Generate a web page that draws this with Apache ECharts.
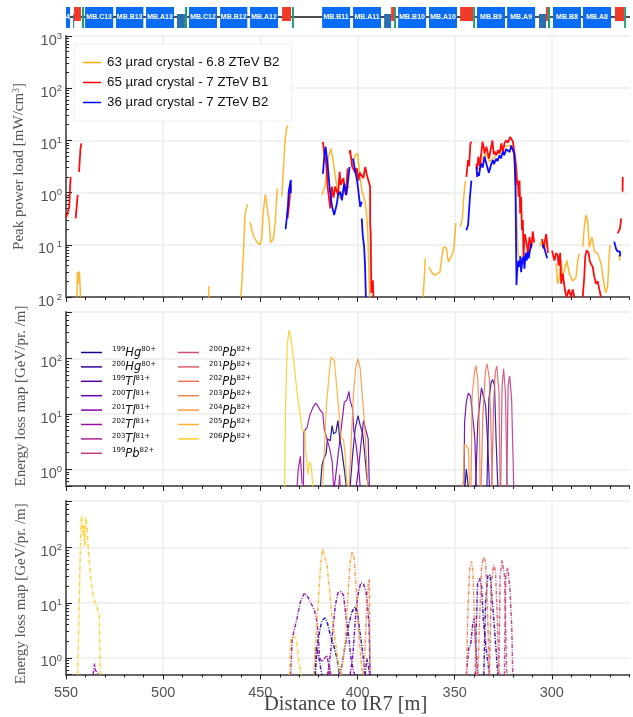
<!DOCTYPE html>
<html><head><meta charset="utf-8">
<style>html,body{margin:0;padding:0;background:#fff}#c{width:633px;height:717px}</style>
<script src="https://cdn.jsdelivr.net/npm/echarts@6/dist/echarts.min.js"></script>
</head><body><div id="c"></div>
<script>
// Magnet layout (metres from IR7)
const magnetStart = [550,546.3,545.9,541.8,540.2,524.3,508.8,492.9,488.8,486.7,470.7,455.3,438.8,433.7,418.2,402.3,386.3,382.7,381.2,379.1,363.2,347.2,340.5,338.5,323,306.6,303,302,299.4,284,267.5,262.8];
const magnetEnd   = [547.9,546.2,542.3,540.7,525.7,510.2,494.4,488.8,487.7,472.3,456.7,440.9,434.2,432.7,403.8,387.9,382.7,381.2,380.2,364.7,348.8,340.5,339.5,324.1,308.6,303,302,300.9,285,269.5,262.8,261.8];
const magnetKind  = ['mb','dark','red','green','mb','mb','mb','dark','green','mb','mb','mb','red','green','mb','mb','dark','red','green','mb','mb','red','green','mb','mb','dark','red','green','mb','mb','red','green'];
const magnetLabel = ['4','','','','MB.C13','MB.B13','MB.A13','','','MB.C12','MB.B12','MB.A12','','','MB.B11','MB.A11','','','','MB.B10','MB.A10','','','MB.B9','MB.A9','','','','MB.B8','MB.A8','',''];

// Peak power load
const crystal63 = [[544.4,0.01],[544.1,0.03],[543.6,0.018],[543.1,0.031],[542.5,0.01],[542,null],
[476.5,0.016],[476.5,0.009],[476,null],
[460.1,0.01],[459.6,0.0166],[458.7,0.072],[457.9,0.37],[456.7,0.6],[456,null],
[455.3,0.27],[453.6,0.15],[451.9,0.115],[450.2,0.1],[449.3,0.13],[448.5,0.43],[447.4,0.93],[446.4,0.93],[445.4,0.27],[444.7,0.11],[443.3,0.13],[442.3,0.27],[441.3,1.2],[440,null],
[439,0.84],[438.2,2.5],[437.2,11],[436.5,17],[435.8,19.5],[435,null],
[418.3,0.9],[416.6,1.4],[415.7,2.7],[414.9,4.9],[413.7,7],[412.6,4.2],[411.4,2],[410.2,1.04],[408.9,0.77],[407.2,0.9],[405.5,1.2],[403.8,1.3],[403,null],
[402.6,3.1],[401.2,5.2],[400,5.6],[399,2.7],[397.8,1.1],[396.1,0.67],[395.2,0.34],[394.7,0.165],[393.8,0.012],[393.7,0.01],[393,null],
[366.2,0.01],[365.7,0.021],[365.1,0.055],[364,null],
[363.3,0.038],[361.9,0.03],[360.2,0.026],[357.6,0.03],[356.2,0.073],[355.6,0.092],[354.2,0.085],[353.3,0.047],[351.6,0.06],[350.4,0.085],[349.4,0.26],[348,null],
[347,0.22],[346,0.34],[345.3,0.83],[344.5,1.7],[340,null],
[338.8,3],[337,2.7],[335.7,4.5],[334,5.5],[332,3.9],[330.3,4.5],[328,5.6],[325,7.6],[321.4,8.1],[319.8,6],[319.2,3.6],[318.5,0.9],[318,0.3],[317.5,0.075],[317,0.06],[316,0.06],[315,0.05],[313,0.07],[311.5,0.1],[310,null],
[306.3,0.098],[305,0.12],[303.5,0.085],[302.2,0.11],[300,null],
[297.8,0.044],[297,0.018],[296.1,0.024],[295.2,0.05],[294.4,0.024],[293.5,0.022],[292.3,0.05],[291,0.028],[289.3,0.02],[287.5,0.024],[286.7,0.05],[285.8,0.068],[285,null],
[284.1,0.091],[283.3,0.22],[282.4,0.37],[281.6,0.3],[280.7,0.09],[279.3,0.14],[278.1,0.075],[276.4,0.068],[274.7,0.044],[273,0.016],[272.2,0.012],[271.3,0.016],[270.5,0.06],[270.1,0.1],[268,null],
[265.7,0.064],[264.8,0.05]];
const crystal65 = [[550,0.33],[549,0.43],[548.3,0.54],[548,1.05],[547.6,2],[546,null],
[545,0.32],[544,0.9],[543.6,null],[543.3,2.5],[542.6,6.5],[542.1,8.8],[541,null],
[436,0.32],[435.5,0.3],[435,0.7],[434.5,1.4],[420,null],
[417.8,9.4],[417.1,5.6],[416.1,3.6],[415.4,1.3],[414,0.5],[413.2,1.3],[412.3,0.8],[411.5,1.3],[410.6,1.2],[410,0.9],[409.2,2.5],[408.6,1.4],[408,1.6],[407.2,1.9],[406.5,1.1],[405.8,0.9],[405.1,2.9],[404.5,null],
[404.1,5.6],[403.8,6.5],[402.8,3.2],[402,3.4],[401.2,2.4],[400.3,2.9],[399.5,1.7],[398.8,2.4],[397.8,2.5],[397,1.9],[396,3.1],[395.2,2.2],[394.4,2.3],[393.5,1.3],[393.5,0.26],[393.2,0.165],[392.9,0.012],[392.1,0.021],[391.8,0.01],[390,null],
[344,2],[343.1,4.2],[342.6,3.2],[341.9,8.8],[341.2,9.4],[340,null],
[338.8,3.6],[338.5,2.8],[337.8,4.9],[337.1,3.2],[336.4,5.2],[335.7,9.4],[335.1,7.6],[334.6,5.6],[333.7,7.6],[332.8,7],[332.3,4.5],[331.6,4.9],[331.1,8],[330.6,10],[329.9,5.4],[329.4,6.1],[328.6,5.2],[327.7,6.5],[326.9,5.6],[326,8.8],[325.2,6],[324.3,9],[323.4,10],[322.6,9],[321.4,11.7],[320.7,11],[320,9.4],[319.2,5.6],[318.3,3],[317.8,1.4],[317.5,1.7],[317.1,0.83],[316.6,1.7],[316.3,0.4],[315.8,0.83],[315.4,0.19],[314.9,0.3],[314.6,0.06],[313.9,0.16],[313.2,0.12],[312.3,0.07],[311.5,0.14],[310.6,0.085],[309.8,0.18],[309.1,0.11],[307,null],
[305,0.13],[304.3,0.085],[303.8,0.09],[302.9,0.16],[302.1,0.165],[302,0.07],[301,null],
[299.9,0.078],[299.2,0.06],[298.7,0.05],[297.8,0.07],[297,0.063],[296.5,0.04],[296.1,0.037],[295.7,0.07],[295.2,0.018],[294.4,0.028],[293.5,0.016],[293,0.012],[292.3,0.01],[291.3,0.014],[290.1,0.01],[289.3,0.014],[288.4,0.01],[287,null],
[284.1,0.01],[283.3,0.024],[282.8,0.06],[282.1,0.078],[281.1,0.07],[280.4,0.047],[279,0.038],[278.1,0.024],[277.3,0.018],[276.4,0.02],[275.9,0.016],[274.7,0.01],[270,null],
[266.2,0.165],[265,0.2],[264.3,0.32],[264,null],[263.6,1.04],[263.5,2]];
const crystal36 = [[437,0.2],[436.5,0.3],[435.8,0.55],[435.4,1.05],[434.8,1.4],[434.3,1.75],[434.3,0.97],[425,null],
[417.8,2.3],[417.1,4.9],[416.4,7.6],[415.4,3.6],[414.4,1.3],[413.2,0.57],[412.6,0.6],[412,0.37],[410.6,0.62],[410,0.9],[408.9,1.04],[408,0.71],[407.4,1.1],[406.8,1.5],[405.8,0.9],[405,1.5],[404.1,3.1],[403,null],
[402.4,4.5],[401.2,2.7],[400,1.5],[398.6,0.53],[397.8,0.67],[397.5,null],
[397.8,0.32],[397.3,0.15],[396.6,0.092],[396.1,0.038],[395.7,0.01],[390,null],
[344,0.19],[343.1,0.24],[342.2,0.77],[341.4,1.7],[340,null],
[338.8,3.1],[338.4,2],[338,2.4],[337.5,2.1],[336.8,3.2],[336.3,3.6],[335.6,3],[334.6,4.9],[333.9,3.8],[332.9,3.6],[332.4,2.4],[332,2.7],[331.2,3.5],[330.3,4.2],[329.8,3.5],[328.6,4.5],[328,4],[326.9,5.2],[326.2,4.5],[325.2,6.1],[324.5,5.2],[323.5,6.8],[322.6,7],[321.8,6],[320.8,8],[320.4,7],[319.8,6.2],[319.3,5.6],[318.7,1.3],[318.3,0.044],[318.2,0.017],[317.9,0.03],[317.5,0.032],[317.2,0.05],[316.6,0.038],[316.2,0.06],[315.8,0.03],[315.2,0.05],[314.6,0.06],[314.1,0.035],[313.5,0.07],[312.9,0.05],[312.4,0.073],[311.9,0.055],[311.5,0.068],[311,0.09],[310.3,0.105],[308,null],
[305,0.1],[303.8,0.085],[302.4,0.055],[290,null],
[267.9,0.115],[267,0.085],[266.2,0.075],[265,0.075],[264.8,0.06]];

// Energy loss map, middle panel
const midHg199 = [[419.1,0.48],[418.3,1.17],[417.4,1.54],[416.2,1.9],[415.4,3.55],[414,3.3],[413.1,6.2],[412.3,4.4],[411.1,4.7],[410.1,7.6],[409.2,3.8],[408.2,2.34],[406.8,1.01],[405.8,0.5],[405,null],[344.7,0.48],[344,1.01],[343.5,1.01],[343,0.48]];
const midHg200 = [[403.8,0.48],[402.4,2.03],[401.2,5.4],[399.7,9.4],[398.6,6.2],[397.3,4.4],[396.2,1.77],[395.2,0.72],[394.4,0.48],[390,null],[333.4,0.48],[332.4,18.8],[331.2,37.8],[330.4,42],[329.5,32.9],[328.7,3.55],[327.8,0.48]];
const midTl199 = [[339.2,0.48],[338.1,7.1],[337.2,14.2],[336.2,29.8],[335.2,29.8],[334.1,14.2],[333.1,3.55],[332.1,0.48]];
const midTl200 = [[400.7,0.48],[399.5,1.01],[398.3,2.7],[396.9,7.6],[395.6,5],[394.5,3.55],[393.9,0.48],[390,null],[345.2,0.48],[344.9,7.1],[344,16.4],[343,23.8],[341.8,21],[340.6,8.2],[339.6,3.55],[338.9,0.48]];
const midTl201 = [[411.9,0.48],[410.6,1.17],[409.4,2.7],[408,7.1],[406.8,16.4],[405.5,18],[404.4,25.6],[403.8,17.5],[402.6,12.8],[402,5.4],[400.7,2.7],[399.5,1.17],[398.6,0.48]];
const midTl202 = [[431.1,0.48],[430.5,1.01],[429.4,1.72],[428.5,0.54],[428.2,null],[427.8,0.48],[427.6,4.7],[425.9,5.8],[424.6,9.4],[422.9,13.3],[421.5,15.7],[420.5,14.2],[419.1,11.6],[417.9,10.5],[417.1,5.4],[415.7,3.55],[414.3,2.34],[413,1.34],[412.3,0.48]];
const midTl203 = [[409.7,0.48],[409.2,0.8],[408.9,0.48]];
const midPb199 = [[323.2,0.48],[322.5,32.9],[321.7,48.5],[320.7,18.8],[319.6,0.48]];
const midPb200 = [[326.3,0.48],[325.6,32.9],[324.8,66],[323.9,24.8],[323,0.48]];
const midPb201 = [[330.9,0.48],[330,14.2],[329.1,57],[328.3,74],[327.2,24.8],[326.6,0.48]];
const midPb202 = [[336.4,0.48],[335.5,9.4],[334.2,57],[333.3,81],[332.1,43],[331.2,3.3],[330.7,0.48]];
const midPb203 = [[341.6,0.48],[341,21.6],[339.8,57],[339.1,75.8],[338.1,43],[337.2,4.7],[336.9,0.48]];
const midPb204 = [[405.5,0.48],[404.3,0.48],[403.2,3.55],[402,24.8],[400.9,70],[399.8,100],[398.6,66],[397.4,18.8],[396.4,7.1],[395.6,2.03],[394.7,0.48],[390,null],[345.7,0.48],[345,2.88],[344,2.7],[343,2.4],[342.3,0.48]];
const midPb205 = [[417.9,0.48],[417.1,2.03],[416,14.2],[414.8,43],[413.7,107],[413,115],[411.9,93],[410.9,37.8],[409.7,12.4],[408.5,3.8],[407.2,3.45],[406.3,1.77],[405.5,0.54],[404.6,0.48]];
const midPb206 = [[437.5,0.48],[437,14.2],[436.2,163],[435.3,325],[434.5,265],[433.6,163],[432.4,66],[431.1,24.8],[429.7,10.8],[428.5,5.2],[427.1,4.8],[426.5,2.03],[425.6,0.82],[424.6,1.38],[423.7,1.09],[423,0.48]];

// Energy loss map, bottom panel
const lowHg199 = [[421.7,0.485],[420.8,1.7],[419.5,3],[418.3,4.8],[416.6,5.3],[415.4,4.2],[414,2.6],[412.3,1.7],[410.6,1],[409.2,0.485]];
const lowHg200 = [[409.7,0.485],[408,0.736],[406.3,1.7],[404.6,3.9],[402.9,6.8],[401.2,8.4],[400,6.8],[399,3.4],[397.8,1.7],[396.6,0.736],[396.1,0.485],[390,null],[335,0.485],[334.1,10.4],[332.9,31.6],[331.7,31.6],[330.9,13.7],[329.5,3.4],[327.8,0.485]];
const lowTl199 = [[422,0.485],[421.5,1.6],[420.6,1.28],[419.8,0.97],[418.3,0.485],[410,null],[396.1,0.485],[395.2,0.97],[394.4,0.736],[393.9,0.485],[390,null],[339.4,0.485],[338.9,3.4],[338.2,22],[337.2,27.5],[336.2,21],[335.2,4.5],[333.8,1.48],[332.1,0.485]];
const lowTl200 = [[403.8,0.485],[402.4,1.12],[400.7,7.8],[399.5,15.7],[398.3,23],[396.9,22],[395.6,15.7],[394.7,7.8],[394,3.4],[393.5,0.485],[390,null],[344,0.485],[342.8,1.48],[341.8,1.7],[340.6,4.5],[339.9,5.2],[339.2,1.7],[338.2,0.485]];
const lowTl201 = [[415.4,0.485],[414,1.12],[412.6,3.4],[411.4,9],[410.1,15],[408.5,16],[407.2,13.7],[405.8,5.2],[404.6,2.6],[403.4,1],[402,0.56],[401.2,0.485]];
const lowTl202 = [[536.1,0.5],[535.3,0.79],[534.9,0.6],[534,0.56],[533.2,0.5],[532,null],[434.5,0.485],[433.6,2.2],[432.4,3.4],[431.1,5.2],[429.4,10.4],[427.3,15],[425.6,12.8],[423.4,9],[422.2,7.3],[420.8,4.5],[420,1.95],[419.5,1],[418.3,0.85],[415.7,1.12],[414,0.485]];
const lowTl203 = [[414.8,0.485],[414.3,0.74],[413.8,0.485]];
const lowPb199 = [[324.4,0.485],[323.7,31.6],[322.7,43],[321.5,17],[320.6,3.4],[320.1,0.485]];
const lowPb200 = [[327.3,0.485],[326.6,31.6],[325.6,59],[324.4,31.6],[323.2,0.485]];
const lowPb201 = [[332.1,0.485],[331.2,20.7],[330,48],[329,39],[328,4.5],[327.3,0.485]];
const lowPb202 = [[338.1,0.485],[337.2,4.5],[336.2,41],[335.2,68],[334.1,55],[333.4,13.7],[332.1,0.485]];
const lowPb203 = [[396.9,0.485],[396.1,1.7],[395.2,9],[394.4,24],[393.9,26.7],[393.5,0.485],[390,null],[344,0.485],[343.2,6.8],[342.3,41],[341.3,56],[340.6,36],[339.8,5.2],[338.9,0.485]];
const lowPb204 = [[408.5,0.485],[406.3,1.95],[404.9,14],[403.8,55],[402.7,83],[401.7,63],[400.7,18],[399.5,3.4],[397.8,0.64],[396.9,0.485]];
const lowPb205 = [[422.5,0.485],[421.7,1.7],[420.5,6.8],[419.1,42],[417.9,96],[416.9,103],[415.7,48],[414.3,16],[413.1,5.2],[411.4,1.95],[409.7,0.73],[408.9,0.485]];
const lowPb206 = [[544,0.5],[543.3,6.8],[542.6,108],[542,375],[541.4,170],[540.9,255],[540.4,108],[539.9,360],[539.2,237],[538.4,83],[537.5,31.6],[535.8,11.9],[534.1,8.4],[532.9,5.9],[532.4,0.5],[500,null],[435,0.485],[434.5,2.2],[432.8,2.5],[431.4,2.2],[430.4,1],[429.4,0.56],[428.8,0.485]];

const isotopes = ['199Hg80+','200Hg80+','199Tl81+','200Tl81+','201Tl81+','202Tl81+','203Tl81+','199Pb82+','200Pb82+','201Pb82+','202Pb82+','203Pb82+','204Pb82+','205Pb82+','206Pb82+'];
const midData = [midHg199,midHg200,midTl199,midTl200,midTl201,midTl202,midTl203,midPb199,midPb200,midPb201,midPb202,midPb203,midPb204,midPb205,midPb206];
const lowData = [lowHg199,lowHg200,lowTl199,lowTl200,lowTl201,lowTl202,lowTl203,lowPb199,lowPb200,lowPb201,lowPb202,lowPb203,lowPb204,lowPb205,lowPb206];
const plasma = ['#0d0887','#2f0596','#4c02a1','#6700a8','#7e03a8','#9511a1','#ab2494','#bf3984','#cf4c74','#dd5e66','#e97158','#f3854b','#f89a3e','#fcb130','#fcce25'];
const powerNames = ['63 µrad crystal - 6.8 ZTeV B2','65 µrad crystal - 7 ZTeV B1','36 µrad crystal - 7 ZTeV B2'];
const powerData = [crystal63,crystal65,crystal36];
const powerColors = ['#ffa500','#ff0000','#0000ff'];

const sans = '"Liberation Sans",Arial,sans-serif', serif='"Liberation Serif",serif';
const magnetStyle = {mb:['#0a6cf5',0,3],red:['#f03a2a',1,3],dark:['#2a6fb0',0,2],green:['#1f9e78',0,3]};

const grids = [
 {left:66,top:7,width:583,height:21,outerBoundsMode:'none'},
 {left:66,top:36,width:583,height:261,outerBoundsMode:'none'},
 {left:66,top:312,width:583,height:174,outerBoundsMode:'none'},
 {left:66,top:501,width:583,height:173.5,outerBoundsMode:'none'}
];
const mkX = (i,lab)=>({type:'value',gridIndex:i,inverse:true,min:250,max:550,interval:50,
  axisLine:{show:i>0,onZero:false,lineStyle:{color:'#666',width:2}},
  axisTick:{show:i>0,length:5,lineStyle:{color:'#222',width:1}},
  minorTick:{show:i>0,splitNumber:5,length:3,lineStyle:{color:'#222',width:1}},
  splitLine:{show:i>0,lineStyle:{color:'#ececec',width:1.5}},
  axisLabel:{show:lab,color:'#555',fontFamily:sans,fontSize:14.5,margin:11,hideOverlap:false,
    formatter:v=>v===250?'':String(v)}});
const logLabel = v=>{const e=Math.log10(v);if(Math.abs(e-Math.round(e))>1e-6)return '';
  const r=Math.round(e);return '{b|10}{s|'+(r<0?' '+(-r):r)+'}';};
const mkY = (i,min,max,name,gap,namePad)=>({type:'log',logBase:10,gridIndex:i,min,max,
  axisLine:{show:true,onZero:false,lineStyle:{color:'#666',width:2}},
  axisTick:{show:true,inside:true,length:6,lineStyle:{color:'#222',width:1}},
  minorTick:{show:true,splitNumber:9,length:3,lineStyle:{color:'#222',width:1}},
  splitLine:{show:true,lineStyle:{color:'#ececec',width:1.5}},
  axisLabel:{color:'#555',margin:4,padding:[7,0,0,0],formatter:logLabel,hideOverlap:false,showMinLabel:true,showMaxLabel:true,
    rich:{b:{fontFamily:sans,fontSize:14.5,color:'#555',verticalAlign:'bottom',lineHeight:17},
          s:{fontFamily:sans,fontSize:9.5,color:'#555',verticalAlign:'top',lineHeight:17}}},
  name,nameLocation:'middle',nameGap:gap,nameRotate:90,
  nameTextStyle:{fontFamily:serif,fontSize:15,color:'#555',padding:namePad,
    rich:{n:{fontFamily:serif,fontSize:15,color:'#555'},p:{fontFamily:serif,fontSize:9.5,color:'#555',verticalAlign:'top',lineHeight:16}}}});

const series = [];
series.push({type:'line',xAxisIndex:0,yAxisIndex:0,symbol:'none',silent:true,z:1,
  data:[[550,1.57],[250,1.57]],lineStyle:{color:'#111',width:1.5}});
series.push({type:'custom',xAxisIndex:0,yAxisIndex:0,silent:true,z:3,clip:false,
  data:magnetStart.map((s,i)=>[s,magnetEnd[i],magnetKind[i],magnetLabel[i]]),
  encode:{x:[0,1]},
  renderItem(p,api){
    const kind=magnetKind[p.dataIndex],st=magnetStyle[kind];
    const a=api.coord([api.value(0),st[2]]),b=api.coord([api.value(1),st[1]]);
    const w=Math.max(b[0]-a[0],1);
    return {type:'rect',shape:{x:a[0],y:a[1],width:w,height:b[1]-a[1]},style:{fill:st[0],
      text:magnetLabel[p.dataIndex],textFill:'#ffffff',fontFamily:sans,fontSize:7,fontWeight:'bold',textPosition:'inside'}};
  }});
powerData.forEach((d,i)=>series.push({name:powerNames[i],type:'line',xAxisIndex:1,yAxisIndex:1,symbol:'none',connectNulls:false,
  data:d,z:2+i,lineStyle:{color:powerColors[i],width:i===0?1.5:1.8,opacity:i===0?0.8:0.95},itemStyle:{color:powerColors[i]},silent:true}));
midData.forEach((d,i)=>series.push({name:isotopes[i],type:'line',xAxisIndex:2,yAxisIndex:2,symbol:'none',connectNulls:false,
  data:d,lineStyle:{color:plasma[i],width:1.2,opacity:0.9},itemStyle:{color:plasma[i]},silent:true}));
lowData.forEach((d,i)=>series.push({name:isotopes[i],type:'line',xAxisIndex:3,yAxisIndex:3,symbol:'none',connectNulls:false,
  data:d,lineStyle:{color:plasma[i],width:1.5,opacity:0.9,type:[4,1.5,1,1.5]},itemStyle:{color:plasma[i]},silent:true}));

const isoFmt = n=>{const m=n.match(/^(\d+)([A-Za-z]+)(\d+\+)$/);return '{a|'+m[1]+'}{b|'+m[2]+'}{a|'+m[3]+'}';};
const isoRich = {a:{fontFamily:'"DejaVu Sans"',fontSize:7,color:'#111',verticalAlign:'top',lineHeight:13},
                 b:{fontFamily:'"DejaVu Sans"',fontSize:11.5,fontStyle:'italic',color:'#111',verticalAlign:'bottom',lineHeight:13}};
const isoLegend = (left,data)=>({left,top:346,orient:'vertical',icon:'rect',itemWidth:21,itemHeight:1.5,itemGap:1.4,padding:0,
  data,formatter:isoFmt,selectedMode:false,textStyle:{rich:isoRich,padding:[0,0,0,5]}});

const chart = echarts.init(document.getElementById('c'),null,{renderer:'canvas'});
chart.setOption({
  animation:false,backgroundColor:'#fff',
  grid:grids,
  xAxis:[mkX(0,false),mkX(1,false),mkX(2,false),mkX(3,true)],
  yAxis:[
   {type:'value',gridIndex:0,min:0,max:3,show:false},
   mkY(1,0.01,1000,'{n|Peak power load [mW/cm}{p|3}{n|]}',28,[0,0,0,0]),
   mkY(2,0.5,700,'Energy loss map [GeV/pr. /m]',37,[0,0,0,6]),
   mkY(3,0.5,700,'Energy loss map [GeV/pr. /m]',37,[0,12,0,0])
  ],
  legend:[
   {left:74,top:44,orient:'vertical',icon:'rect',data:powerNames,itemWidth:18,itemHeight:1.5,itemGap:7,selectedMode:false,
    padding:[12,12,12,9],backgroundColor:'#fff',borderColor:'#eeeeee',borderWidth:1,z:20,
    textStyle:{fontFamily:sans,fontSize:13.3,color:'#111',padding:[0,0,0,1]}},
   isoLegend(81,isotopes.slice(0,8)),
   isoLegend(178,isotopes.slice(8))
  ],
  series,
  graphic:[
   {type:'rect',left:630,top:0,shape:{width:3,height:717},style:{fill:'#fff'},z:100,silent:true},
   {type:'text',left:264,top:694,style:{text:'Distance to IR7 [m]',font:'20.5px '+serif,fill:'#444'},z:100,silent:true}
  ]
});
</script></body></html>
